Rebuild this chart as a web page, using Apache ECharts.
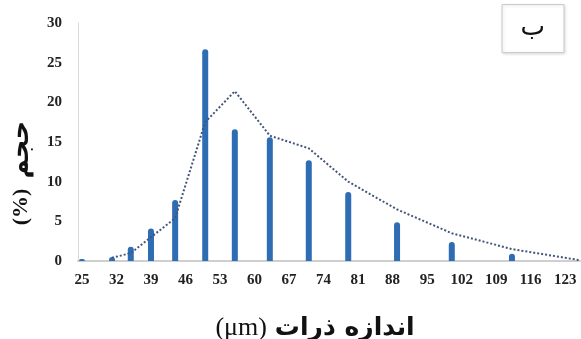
<!DOCTYPE html>
<html><head><meta charset="utf-8">
<script src="https://cdn.jsdelivr.net/npm/echarts@6/dist/echarts.min.js"></script>
<style>html,body{margin:0;padding:0;background:#fff}#c{width:581px;height:339px}</style>
</head><body><div id="c"></div>
<script>
const barX = [25, 31.1, 34.9, 39, 43.9, 50, 56, 63.1, 71, 79, 88.9, 100, 112.2];
const barY = [0.25, 0.5, 1.8, 4.1, 7.7, 26.7, 16.6, 15.6, 12.7, 8.7, 4.9, 2.4, 0.9];
const lineX = [31.1, 34.9, 39, 43.9, 50, 56, 63.1, 71, 79, 88.9, 100, 112.2, 126];
const lineY = [0.4, 1.0, 3.0, 5.4, 17.5, 21.4, 15.8, 14.2, 10.0, 6.5, 3.5, 1.5, 0.1];
const xTicks = [25, 32, 39, 46, 53, 60, 67, 74, 81, 88, 95, 102, 109, 116, 123];
const yTicks = [0, 5, 10, 15, 20, 25, 30];
const xTitleWords = 'اندازه ذرات';
const xTitleUnit = '(μm)';
const yTitleWord = 'حجم';
const yTitleUnit = '(%)';
const panelLabel = 'ب';

const chart = echarts.init(document.getElementById('c'), null, {renderer: 'canvas'});
const serif = '"Liberation Serif", "DejaVu Serif", serif';
const arabic = '"DejaVu Sans", sans-serif';
chart.setOption({
  animation: false,
  backgroundColor: '#fff',
  grid: {left: 78, right: 1, top: 23, bottom: 78, containLabel: false, outerBoundsMode: 'none'},
  title: {
    text: panelLabel, right: 17, top: 4,
    padding: [11, 19, 12, 19],
    borderColor: '#cccccc', borderWidth: 1,
    shadowColor: 'rgba(0,0,0,0.15)', shadowBlur: 3, shadowOffsetX: 1, shadowOffsetY: 1,
    backgroundColor: '#fff',
    textStyle: {fontFamily: arabic, fontSize: 26, fontWeight: 'normal', color: '#111', lineHeight: 26}
  },
  xAxis: {
    type: 'value', min: 24.2, max: 126,
    name: '{u|' + xTitleUnit + '}{a|' + xTitleWords + '}',
    nameLocation: 'middle', nameGap: 54,
    nameTextStyle: {
      padding: [0, 28, 0, 0],
      rich: {
        u: {fontFamily: serif, fontSize: 26, fontWeight: 'normal', color: '#111', padding: [0, 8, 0, 0]},
        a: {fontFamily: arabic, fontSize: 25, fontWeight: 'bold', color: '#111'}
      }
    },
    axisLine: {show: true, lineStyle: {color: '#cfcfcf', width: 2}},
    axisTick: {show: false},
    splitLine: {show: false},
    axisLabel: {customValues: xTicks, margin: 12, fontFamily: serif, fontSize: 15, fontWeight: 'bold', color: '#222'}
  },
  yAxis: {
    type: 'value', min: 0, max: 30, interval: 5,
    name: '{u|' + yTitleUnit + '}   {a|' + yTitleWord + '}',
    nameLocation: 'middle', nameGap: 44, nameRotate: 90,
    nameTextStyle: {
      padding: [0, 62, 0, 0],
      rich: {
        u: {fontFamily: serif, fontSize: 22, fontWeight: 'bold', color: '#111'},
        a: {fontFamily: arabic, fontSize: 26, fontWeight: 'bold', color: '#111'}
      }
    },
    axisLine: {show: true, lineStyle: {color: '#d9d9d9', width: 1}},
    axisTick: {show: false},
    splitLine: {show: false},
    axisLabel: {customValues: yTicks, margin: 16, fontFamily: serif, fontSize: 15, fontWeight: 'bold', color: '#222'}
  },
  series: [
    {
      type: 'bar', barWidth: 6,
      data: barX.map((x, i) => [x, barY[i]]),
      itemStyle: {color: '#2E6DB4', borderRadius: [3, 3, 0, 0]}
    },
    {
      type: 'line', showSymbol: false, symbol: 'none',
      data: lineX.map((x, i) => [x, lineY[i]]),
      lineStyle: {color: '#44557a', width: 2, type: [2, 2]},
      z: 3
    }
  ]
});
</script></body></html>
